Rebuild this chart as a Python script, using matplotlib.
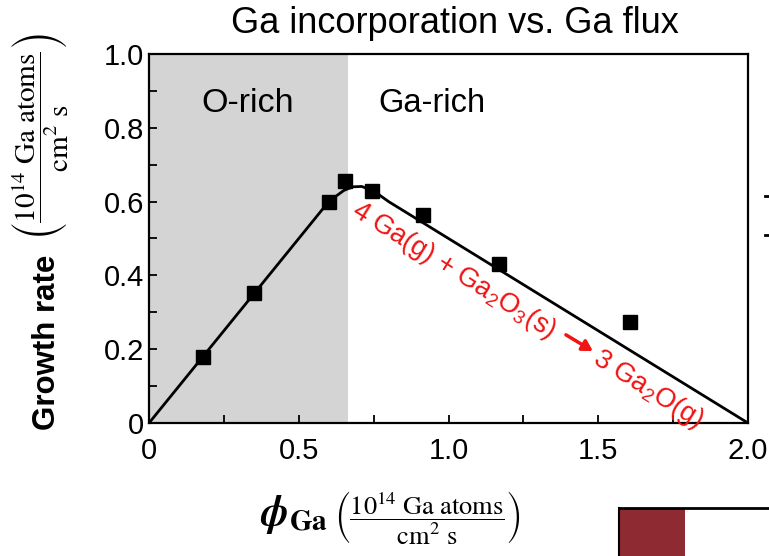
import matplotlib
matplotlib.use("Agg")
import matplotlib.pyplot as plt
from matplotlib.patches import Rectangle
from matplotlib.lines import Line2D

plt.rcParams['font.family'] = ['Liberation Sans', 'DejaVu Sans']
plt.rcParams['mathtext.fontset'] = 'custom'
plt.rcParams['mathtext.rm'] = 'Liberation Sans'
plt.rcParams['mathtext.it'] = 'Liberation Sans:italic'
plt.rcParams['mathtext.bf'] = 'Liberation Sans:bold'

# measured points
flux = [0.18, 0.35, 0.60, 0.655, 0.745, 0.915, 1.17, 1.605]
rate = [0.18, 0.352, 0.60, 0.655, 0.629, 0.564, 0.431, 0.275]

# model curve
fit_x = [0, 0.58, 0.62, 0.65, 0.68, 0.71, 0.75, 0.80, 2.0]
fit_y = [0, 0.58, 0.612, 0.630, 0.640, 0.641, 0.629, 0.600, 0]

o_rich_end = 0.665
x_ticks = [0, 0.5, 1.0, 1.5, 2.0]
x_labels = ['0', '0.5', '1.0', '1.5', '2.0']
y_ticks = [0, 0.2, 0.4, 0.6, 0.8, 1.0]
y_labels = ['0', '0.2', '0.4', '0.6', '0.8', '1.0']

red = '#f01414'

fig = plt.figure(figsize=(7.69, 5.56), dpi=100)
ax = fig.add_axes([0.1938, 0.2392, 0.7789, 0.6637])

ax.axvspan(0, o_rich_end, color='#d4d4d4', lw=0, zorder=0)
ax.plot(fit_x, fit_y, color='black', lw=2, zorder=2)
ax.plot(flux, rate, 's', color='black', ms=9.5, zorder=3, clip_on=False)

ax.set_xlim(0, 2.0)
ax.set_ylim(0, 1.0)
ax.set_xticks(x_ticks)
ax.set_xticklabels(x_labels)
ax.set_yticks(y_ticks)
ax.set_yticklabels(y_labels)
ax.set_xticks([0.25, 0.75, 1.25, 1.75], minor=True)
ax.set_yticks([0.1, 0.3, 0.5, 0.7, 0.9], minor=True)
ax.tick_params(which='both', direction='in', length=6, width=1.3,
               top=False, right=False, labelsize=21)
ax.tick_params(axis='x', pad=10)
for s in ax.spines.values():
    s.set_linewidth(1.6)

fig.text(0.592, 0.958, 'Ga incorporation vs. Ga flux', fontsize=26,
         ha='center', va='center')

ax.text(0.33, 0.866, 'O-rich', fontsize=24.5, ha='center', va='center')
ax.text(0.945, 0.866, 'Ga-rich', fontsize=23.5, ha='center', va='center')

# reaction, written along the falling branch
ang = -32
ax.text(1.018, 0.412, r'4 Ga(g) + Ga$_2$O$_3$(s)', color=red, fontsize=19.5,
        rotation=ang, rotation_mode='anchor', ha='center', va='center')
ax.text(1.665, 0.091, r'3 Ga$_2$O(g)', color=red, fontsize=19.5,
        rotation=ang, rotation_mode='anchor', ha='center', va='center')
ax.annotate('', xy=(1.482, 0.195), xytext=(1.392, 0.239),
            arrowprops=dict(arrowstyle='-|>,head_length=0.6,head_width=0.35',
                            color=red, lw=2.5, shrinkA=0, shrinkB=0))

frac = r'\left(\dfrac{10^{14}\ \mathrm{Ga\ atoms}}{\mathrm{cm}^2\ \mathrm{s}}\right)'
fig.text(0.061, 0.385, 'Growth rate', rotation=90, fontsize=22.5,
         fontweight='bold', ha='center', va='center')
fig.text(0.052, 0.755, '$' + frac + '$', rotation=90, fontsize=21,
         ha='center', va='center', math_fontfamily='stix')
fig.text(0.382, 0.075, r'$\boldsymbol{\phi}_{\mathbf{Ga}}$', fontsize=30,
         ha='center', va='center', math_fontfamily='stix')
fig.text(0.555, 0.07, '$' + frac + '$', fontsize=19,
         ha='center', va='center', math_fontfamily='stix')

# bits of the slide cut off at the right edge
fig.add_artist(Rectangle((619 / 769, 0), 66 / 769, 47 / 556,
                         facecolor='#8e2a31', edgecolor='none'))
fig.add_artist(Line2D([619 / 769, 1], [48 / 556, 48 / 556], color='black', lw=2))
fig.add_artist(Line2D([619 / 769, 619 / 769], [0, 48 / 556], color='black', lw=1.5))
fig.add_artist(Line2D([765 / 769, 769 / 769], [1 - 196 / 556, 1 - 196 / 556], color='black', lw=2))
fig.add_artist(Line2D([765 / 769, 769 / 769], [1 - 235 / 556, 1 - 235 / 556], color='black', lw=2))

fig.savefig('out.png', dpi=100)
